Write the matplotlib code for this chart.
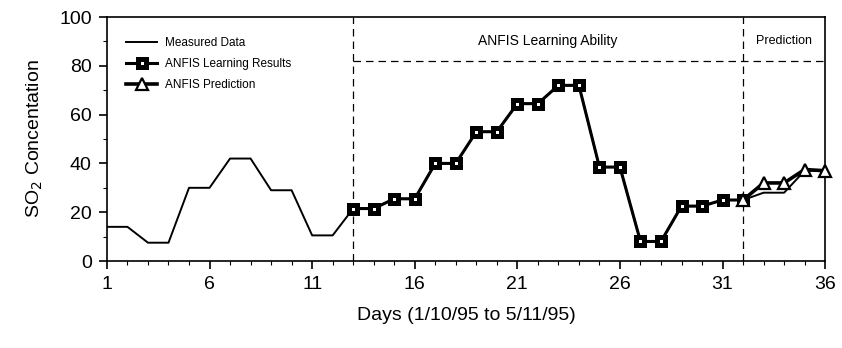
import matplotlib
matplotlib.use("Agg")
import matplotlib.pyplot as plt
from matplotlib.ticker import MultipleLocator

plt.rcParams["font.family"] = ["Liberation Sans", "DejaVu Sans"]

# measured SO2 concentration, days 1..36
days = list(range(1, 37))
measured = [14, 14, 7.5, 7.5, 30, 30, 42, 42, 29, 29, 10.5, 10.5,
            21.5, 21.5, 25.5, 25.5, 40, 40, 53, 53, 64.5, 64.5, 72, 72,
            38.5, 38.5, 8, 8, 22.5, 22.5, 25, 25, 28, 28, 37, 37]

# ANFIS learning results, days 13..32
learn_days = list(range(13, 33))
learn_vals = [21.5, 21.5, 25.5, 25.5, 40, 40, 53, 53, 64.5, 64.5,
              72, 72, 38.5, 38.5, 8, 8, 22.5, 22.5, 25, 25]

# ANFIS prediction, days 32..36
pred_days = [32, 33, 34, 35, 36]
pred_vals = [25, 32, 32, 37.5, 37]

x_ticks = [1, 6, 11, 16, 21, 26, 31, 36]
train_start = 13
pred_start = 32
region_line = 82

fig = plt.figure(figsize=(8.42, 3.48), dpi=100)
ax = fig.add_axes([0.127, 0.25, 0.853, 0.701])

ax.plot(days, measured, color="black", lw=1.4, label="Measured Data", zorder=3)
ax.plot(learn_days, learn_vals, color="black", lw=2.2, marker="s", ms=6,
        mfc="white", mec="black", mew=3.6, label="ANFIS Learning Results",
        zorder=4, clip_on=False)
ax.plot(pred_days, pred_vals, color="black", lw=2.6, marker="^", ms=9,
        mfc="white", mec="black", mew=1.6, label="ANFIS Prediction",
        zorder=5, clip_on=False)

# region separators
ax.axvline(train_start, color="black", lw=0.9, ls=(0, (6, 4)), zorder=2)
ax.axvline(pred_start, color="black", lw=0.9, ls=(0, (6, 4)), zorder=2)
ax.plot([train_start, 36], [region_line, region_line], color="black",
        lw=0.9, ls=(0, (6, 4)), zorder=2)
ax.text((train_start + pred_start) / 2, 90, "ANFIS Learning Ability",
        ha="center", va="center", fontsize=10)
ax.text((pred_start + 36) / 2, 90, "Prediction", ha="center", va="center",
        fontsize=9)

ax.set_xlim(1, 36)
ax.set_ylim(0, 100)
ax.set_xticks(x_ticks)
ax.xaxis.set_minor_locator(MultipleLocator(1))
ax.yaxis.set_major_locator(MultipleLocator(20))
ax.yaxis.set_minor_locator(MultipleLocator(10))
ax.tick_params(which="major", direction="out", length=6, width=1.2,
               labelsize=14, pad=5)
ax.tick_params(which="minor", direction="out", length=3, width=0.8)

for s in ax.spines.values():
    s.set_linewidth(1.2)

ax.set_xlabel("Days (1/10/95 to 5/11/95)", fontsize=14, labelpad=10)
ax.set_ylabel("SO$_2$ Concentation", fontsize=14, labelpad=10)

ax.legend(loc="upper left", bbox_to_anchor=(0.012, 0.96), frameon=False,
          fontsize=8.5, handlelength=2.6, labelspacing=0.75, borderaxespad=0.5,
          handletextpad=0.7)

fig.savefig("out.png", dpi=100)
